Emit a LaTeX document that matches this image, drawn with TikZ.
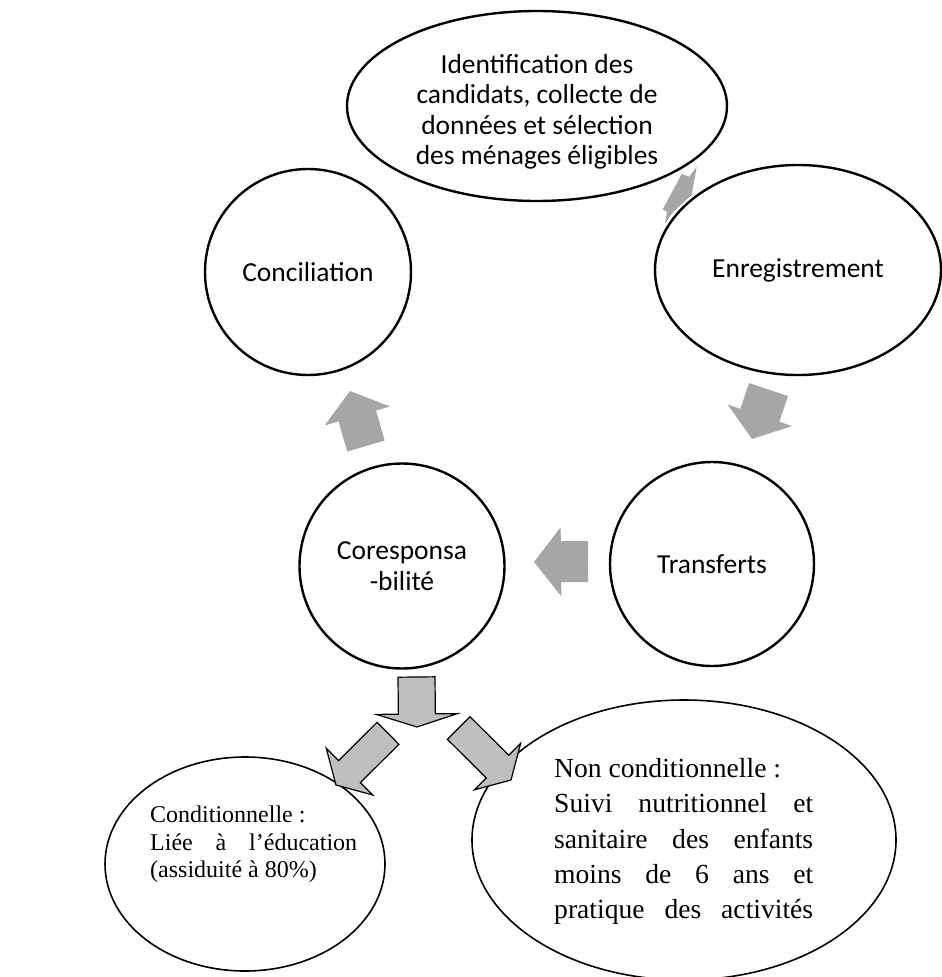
\documentclass[tikz,border=0pt]{standalone}
\usepackage{fontspec}
\setmainfont{Liberation Serif}
\newfontfamily\calibri{Carlito}
\usetikzlibrary{shapes.geometric,calc}

\definecolor{gris}{HTML}{A6A6A6}
\definecolor{grisclair}{HTML}{BFBFBF}

% fleche pleine : #1 style, #2 queue, #3 pointe, #4 demi-corps, #5 demi-tete, #6 longueur tete
\newcommand{\fleche}[6]{%
  \coordinate (#2-#3) at ($(#3)!#6!(#2)$);
  \filldraw[#1] ($(#2)!#4!90:(#3)$) -- ($(#2-#3)!#4!-90:(#2)$) -- ($(#2-#3)!#5!-90:(#2)$)
    -- (#3) -- ($(#2-#3)!#5!90:(#2)$) -- ($(#2-#3)!#4!90:(#2)$) -- ($(#2)!#4!-90:(#3)$) -- cycle;
}

\begin{document}
\begin{tikzpicture}[x=1pt,y=-1pt]

    % Styles des noeuds
    \tikzstyle{etape} = [ellipse, draw=black, line width=2.4pt, fill=white, inner sep=0pt, align=center, font=\calibri\fontsize{27.5}{30.5}\selectfont]
    \tikzstyle{volet} = [ellipse, draw=black, line width=1.6pt, fill=white, inner sep=0pt]
    \tikzstyle{texte} = [inner sep=0pt, anchor=north west, align=left]
    \tikzstyle{flechegrise} = [fill=gris, draw=none]
    \tikzstyle{flechebloc} = [fill=grisclair, draw=black, line width=1.2pt, line join=miter]

    \useasboundingbox (0,0) rectangle (942,977);

    % Fleche cachee (haut)
    \fill[flechegrise] (681.7,174) -- (689.3,176.7) -- (696.7,166.7) -- (691.7,195) -- (673.3,211.7)
      -- (665,223.3) -- (667,212) -- (662.7,209.3) -- cycle;

    % Noeuds
    \node (identification) [etape, minimum width=380, minimum height=190] at (537,106) {};
    \node [align=center, font=\calibri\fontsize{27.5}{30.5}\selectfont] at (537,112)
      {Identification des\\candidats, collecte de\\données et sélection\\des ménages éligibles};
    \node (conciliation) [etape, circle, minimum size=206] at (308,272) {Conciliation};
    \node (enregistrement) [etape, minimum width=286, minimum height=210] at (798,270) {Enregistrement};
    \node (transferts) [etape, circle, minimum size=204] at (712,564) {Transferts};
    \node (coresp) [etape, circle, minimum size=205] at (402,566) {Coresponsa\\-bilité};
    \node (cond) [volet, minimum width=280, minimum height=214] at (245,864) {};
    \node (noncond) [volet, minimum width=424, minimum height=280] at (684,840) {};

    % Textes
    \node (textecond) [texte, font=\fontsize{24}{27.5}\selectfont] at (150,806)
      {Conditionnelle :\\\makebox[207pt][s]{Liée à l’éducation}\\(assiduité à 80\%)};
    \node (textenoncond) [texte, font=\fontsize{27.6}{35.4}\selectfont] at (554,758)
      {Non conditionnelle :\\\makebox[259pt][s]{Suivi nutritionnel et}\\\makebox[259pt][s]{sanitaire des enfants}\\
       \makebox[259pt][s]{moins de 6 ans et}\\\makebox[259pt][s]{pratique des activités}};

    % Fleches
    \coordinate (q2) at (768.5,389.5); \coordinate (p2) at (752,439);
    \coordinate (q3) at (588,561.5);   \coordinate (p3) at (534,562);
    \coordinate (q4) at (366,446);     \coordinate (p4) at (350,391);
    \fleche{flechegrise}{q2}{p2}{20.5pt}{34pt}{25pt}
    \fleche{flechegrise}{q3}{p3}{20.5pt}{34.5pt}{27pt}
    \fleche{flechegrise}{q4}{p4}{19.5pt}{34pt}{26pt}

    \coordinate (q5) at (416.5,677);   \coordinate (p5) at (417,727);
    \coordinate (q6) at (388,733.3);   \coordinate (p6) at (336,785);
    \coordinate (q7) at (458.7,728);   \coordinate (p7) at (511,780);
    \fleche{flechebloc}{q5}{p5}{18.5pt}{40.5pt}{13pt}
    \fleche{flechebloc}{q6}{p6}{15.5pt}{33pt}{19pt}
    \fleche{flechebloc}{q7}{p7}{16pt}{32.7pt}{19pt}

\end{tikzpicture}
\end{document}
